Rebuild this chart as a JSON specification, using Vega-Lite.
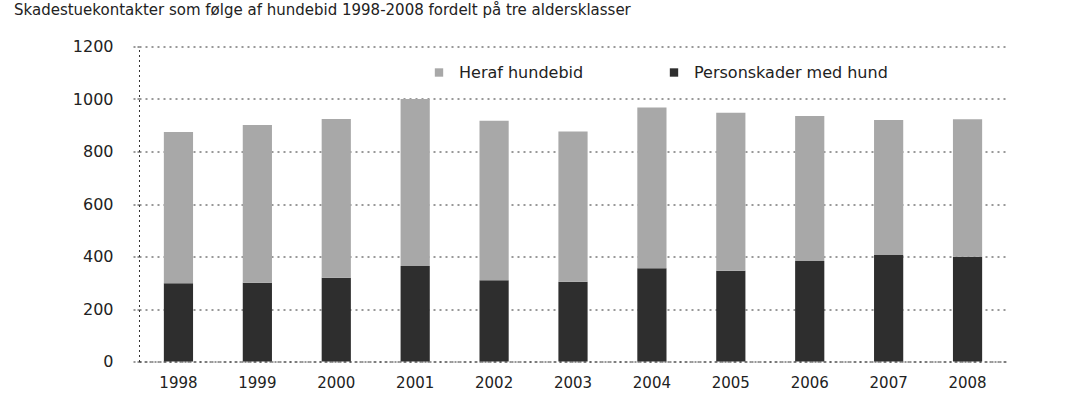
{
  "$schema": "https://vega.github.io/schema/vega-lite/v6.json",
  "width": 868,
  "height": 315,
  "autosize": {"type": "none"},
  "padding": {"left": 139, "top": 46.5, "right": 69, "bottom": 41.5},
  "background": "white",
  "title": {
    "text": "Skadestuekontakter som følge af hundebid 1998-2008 fordelt på tre aldersklasser",
    "anchor": "start",
    "frame": "group",
    "orient": "top",
    "offset": 9,
    "dx": -125,
    "baseline": "alphabetic",
    "font": "DejaVu Sans",
    "fontSize": 15,
    "fontWeight": "normal",
    "color": "#222"
  },
  "data": {
    "values": [
      {"year": "1998", "serie": "Personskader med hund", "value": 298},
      {"year": "1998", "serie": "Heraf hundebid", "value": 576},
      {"year": "1999", "serie": "Personskader med hund", "value": 300},
      {"year": "1999", "serie": "Heraf hundebid", "value": 601},
      {"year": "2000", "serie": "Personskader med hund", "value": 319},
      {"year": "2000", "serie": "Heraf hundebid", "value": 605},
      {"year": "2001", "serie": "Personskader med hund", "value": 364},
      {"year": "2001", "serie": "Heraf hundebid", "value": 636},
      {"year": "2002", "serie": "Personskader med hund", "value": 310},
      {"year": "2002", "serie": "Heraf hundebid", "value": 607},
      {"year": "2003", "serie": "Personskader med hund", "value": 304},
      {"year": "2003", "serie": "Heraf hundebid", "value": 572},
      {"year": "2004", "serie": "Personskader med hund", "value": 355},
      {"year": "2004", "serie": "Heraf hundebid", "value": 613},
      {"year": "2005", "serie": "Personskader med hund", "value": 346},
      {"year": "2005", "serie": "Heraf hundebid", "value": 602},
      {"year": "2006", "serie": "Personskader med hund", "value": 383},
      {"year": "2006", "serie": "Heraf hundebid", "value": 552},
      {"year": "2007", "serie": "Personskader med hund", "value": 406},
      {"year": "2007", "serie": "Heraf hundebid", "value": 514},
      {"year": "2008", "serie": "Personskader med hund", "value": 399},
      {"year": "2008", "serie": "Heraf hundebid", "value": 524}
    ]
  },
  "mark": {"type": "bar", "stroke": null},
  "encoding": {
    "x": {
      "field": "year",
      "type": "ordinal",
      "scale": {"paddingInner": 0.63, "paddingOuter": 0.315},
      "axis": {
        "title": null,
        "labelAngle": 0,
        "labelFont": "DejaVu Sans",
        "labelFontSize": 15,
        "labelColor": "#222",
        "labelPadding": 14,
        "ticks": false,
        "domain": true,
        "domainColor": "#333",
        "domainDash": [2, 3],
        "grid": false
      }
    },
    "y": {
      "field": "value",
      "type": "quantitative",
      "aggregate": "sum",
      "stack": "zero",
      "scale": {"domain": [0, 1200], "nice": false},
      "axis": {
        "title": null,
        "values": [0, 200, 400, 600, 800, 1000, 1200],
        "format": "d",
        "labelFont": "DejaVu Sans",
        "labelFontSize": 16,
        "labelColor": "#222",
        "labelPadding": 18,
        "ticks": true,
        "tickSize": 8,
        "tickColor": "#333",
        "tickDash": [2, 2],
        "domain": true,
        "domainColor": "#333",
        "domainDash": [2, 3],
        "grid": true,
        "gridColor": "#333",
        "gridDash": [2, 4],
        "gridWidth": 1
      }
    },
    "color": {
      "field": "serie",
      "type": "nominal",
      "scale": {
        "domain": ["Heraf hundebid", "Personskader med hund"],
        "range": ["#a8a8a8", "#2e2e2e"]
      },
      "legend": {
        "title": null,
        "orient": "none",
        "legendX": 292,
        "legendY": 18,
        "direction": "horizontal",
        "symbolType": "square",
        "symbolSize": 70,
        "symbolStrokeWidth": 0,
        "labelFont": "DejaVu Sans",
        "labelFontSize": 16,
        "labelColor": "#222",
        "labelOffset": 12,
        "labelLimit": 0,
        "columnPadding": 82
      }
    },
    "order": {"field": "serie", "sort": "descending"}
  },
  "config": {
    "view": {"stroke": null}
  }
}
